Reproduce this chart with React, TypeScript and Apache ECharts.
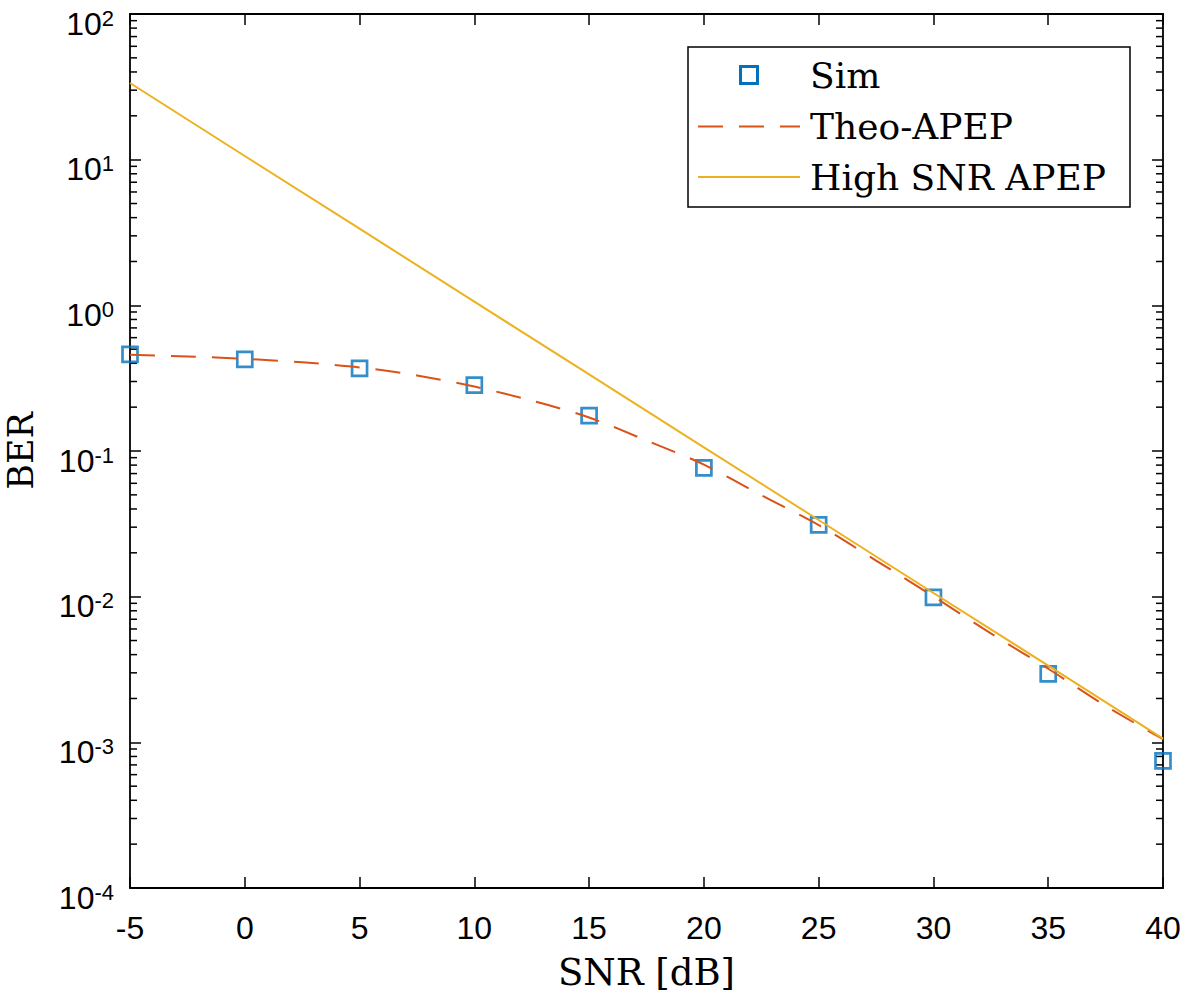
import React, { useEffect, useRef } from 'react';
import * as echarts from 'echarts';

// ---- data ----
const snrDb = [-5, 0, 5, 10, 15, 20, 25, 30, 35, 40];
const simBer = [0.46, 0.425, 0.369, 0.283, 0.175, 0.0766, 0.0311, 0.0099, 0.00295, 0.000746];

const theoSnr = [-5, -2.5, 0, 2.5, 5, 7.5, 10, 12.5, 15, 17.5, 20, 22.5, 25, 27.5, 30, 32.5, 35, 37.5, 40];
const theoBer = [0.457, 0.446, 0.429, 0.406, 0.375, 0.33, 0.277, 0.222, 0.17, 0.118, 0.0807, 0.0497, 0.031, 0.0177, 0.01005, 0.0056, 0.0032, 0.00178, 0.00105];

const highSnrBer = [33.6, 10.6, 3.36, 1.06, 0.336, 0.106, 0.0336, 0.0106, 0.00336, 0.00106];

const seriesNames = ['Sim', 'Theo-APEP', 'High SNR APEP'];

const minorTickValues = [
  2e-4, 3e-4, 4e-4, 5e-4, 6e-4, 7e-4, 8e-4, 9e-4,
  2e-3, 3e-3, 4e-3, 5e-3, 6e-3, 7e-3, 8e-3, 9e-3,
  2e-2, 3e-2, 4e-2, 5e-2, 6e-2, 7e-2, 8e-2, 9e-2,
  0.2, 0.3, 0.4, 0.5, 0.6, 0.7, 0.8, 0.9,
  2, 3, 4, 5, 6, 7, 8, 9,
  20, 30, 40, 50, 60, 70, 80, 90,
];

const X_MIN = -5;
const X_MAX = 40;

const SANS = 'Liberation Sans';
const SERIF = 'DejaVu Serif';

const BLUE = '#0072BD';
const ORANGE = '#D95319';
const YELLOW = '#EDB120';

export default function App() {
  const ref = useRef<HTMLDivElement>(null);

  useEffect(() => {
    if (!ref.current) return;
    const chart = echarts.init(ref.current, null, { renderer: 'svg' });

    const axisLine = { show: true, onZero: false, lineStyle: { color: '#000', width: 1.8 } };
    const majorTick = { show: true, inside: true, length: 11, lineStyle: { color: '#000', width: 1.5 } };

    const yLabelRich = {
      b: { fontFamily: SANS, fontSize: 32, lineHeight: 33, color: '#000' },
      s: { fontFamily: SANS, fontSize: 22, lineHeight: 22, verticalAlign: 'top', color: '#000' },
    };

    // legend box drawn with graphic elements
    const lgX = 688, lgY = 47, lgW = 442, lgH = 160;
    const iconL = 698, iconR = 800, textX = 810;
    const rowY = [75, 126.5, 177];

    const option: any = {
      animation: false,
      backgroundColor: '#fff',
      grid: { left: 130, right: 17, top: 14, bottom: 111, containLabel: false, outerBoundsMode: 'none' },
      graphic: [
        {
          type: 'group',
          z: 100,
          children: [
            { type: 'rect', shape: { x: lgX, y: lgY, width: lgW, height: lgH }, style: { fill: '#fff', stroke: '#000', lineWidth: 1.5 } },
            { type: 'rect', shape: { x: (iconL + iconR) / 2 - 8.5, y: rowY[0] - 8.5, width: 17, height: 17 }, style: { fill: 'none', stroke: BLUE, lineWidth: 3 } },
            { type: 'line', shape: { x1: iconL, y1: rowY[1], x2: iconR, y2: rowY[1] }, style: { stroke: ORANGE, lineWidth: 2, lineDash: [25, 16] } },
            { type: 'line', shape: { x1: iconL, y1: rowY[2], x2: iconR, y2: rowY[2] }, style: { stroke: YELLOW, lineWidth: 2 } },
            ...seriesNames.map((n, i) => ({
              type: 'text',
              x: textX,
              y: rowY[i],
              style: { text: n, fontFamily: SERIF, fontSize: 36, fill: '#000', verticalAlign: 'middle', align: 'left' },
            })),
          ],
        },
      ],
      xAxis: [
        {
          type: 'value',
          min: X_MIN,
          max: X_MAX,
          interval: 5,
          position: 'bottom',
          name: 'SNR [dB]',
          nameLocation: 'middle',
          nameGap: 66,
          nameTextStyle: { fontFamily: SERIF, fontSize: 37, color: '#000' },
          axisLine,
          axisTick: majorTick,
          axisLabel: { fontFamily: SANS, fontSize: 32, lineHeight: 32, color: '#000', margin: 24 },
          splitLine: { show: false },
        },
        {
          type: 'value',
          min: X_MIN,
          max: X_MAX,
          interval: 5,
          position: 'top',
          axisLine,
          axisTick: majorTick,
          axisLabel: { show: false },
          splitLine: { show: false },
        },
      ],
      yAxis: [
        {
          type: 'log',
          logBase: 10,
          min: 1e-4,
          max: 100,
          interval: 1,
          position: 'left',
          name: 'BER',
          nameLocation: 'middle',
          nameGap: 91,
          nameTextStyle: { fontFamily: SERIF, fontSize: 35, lineHeight: 36, color: '#000' },
          axisLine,
          axisTick: majorTick,
          minorTick: { show: false },
          axisLabel: {
            margin: 16,
            padding: [19, 0, 0, 0],
            formatter: (v: number) => `{b|10}{s|${Math.round(Math.log10(v))}}`,
            rich: yLabelRich,
          },
          splitLine: { show: false },
        },
        {
          type: 'log',
          logBase: 10,
          min: 1e-4,
          max: 100,
          interval: 1,
          position: 'right',
          axisLine,
          axisTick: majorTick,
          axisLabel: { show: false },
          splitLine: { show: false },
        },
      ],
      series: [
        {
          name: seriesNames[0],
          type: 'scatter',
          xAxisIndex: 0,
          yAxisIndex: 0,
          symbol: 'rect',
          symbolSize: 15,
          clip: false,
          itemStyle: { color: 'rgba(255,255,255,0)', borderColor: BLUE, borderWidth: 2.7 },
          data: snrDb.map((x, i) => [x, simBer[i]]),
          z: 3,
        },
        {
          name: seriesNames[1],
          type: 'line',
          xAxisIndex: 0,
          yAxisIndex: 0,
          showSymbol: false,
          symbol: 'none',
          smooth: 0.3,
          lineStyle: { color: ORANGE, width: 2, type: [25, 16] },
          itemStyle: { color: ORANGE },
          data: theoSnr.map((x, i) => [x, theoBer[i]]),
          z: 4,
        },
        {
          name: seriesNames[2],
          type: 'line',
          xAxisIndex: 0,
          yAxisIndex: 0,
          showSymbol: false,
          symbol: 'none',
          lineStyle: { color: YELLOW, width: 2 },
          itemStyle: { color: YELLOW },
          data: snrDb.map((x, i) => [x, highSnrBer[i]]),
          z: 5,
        },
        {
          name: 'minorTicks',
          type: 'custom',
          xAxisIndex: 0,
          yAxisIndex: 0,
          silent: true,
          clip: false,
          encode: { x: 0, y: 1 },
          data: minorTickValues.map((v) => [X_MIN, v]),
          renderItem: (params: any, api: any) => {
            const v = api.value(1);
            const pL = api.coord([X_MIN, v]);
            const pR = api.coord([X_MAX, v]);
            return {
              type: 'group',
              children: [
                { type: 'line', shape: { x1: pL[0], y1: pL[1], x2: pL[0] + 7, y2: pL[1] }, style: { stroke: '#000', lineWidth: 1.5 } },
                { type: 'line', shape: { x1: pR[0], y1: pR[1], x2: pR[0] - 7, y2: pR[1] }, style: { stroke: '#000', lineWidth: 1.5 } },
              ],
            };
          },
          z: 2,
        },
      ],
    };

    chart.setOption(option);
    return () => chart.dispose();
  }, []);

  return (
    <div
      ref={ref}
      style={{ position: 'fixed', left: 0, top: 0, width: 1180, height: 999, background: '#fff' }}
    />
  );
}
